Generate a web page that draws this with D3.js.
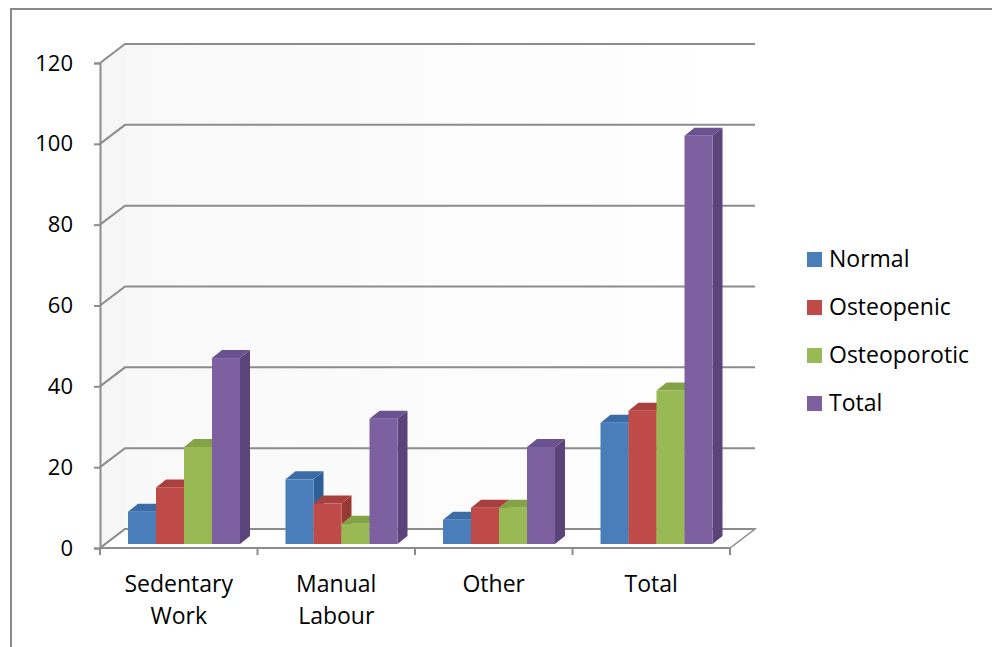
<!DOCTYPE html>
<html>
<head>
<meta charset="utf-8">
<script src="https://cdn.jsdelivr.net/npm/d3@7"></script>
<style>
  body { margin: 0; background: #fff; }
  text { font-family: "Open Sans", sans-serif; fill: #000; }
</style>
</head>
<body>
<div id="chart"></div>
<script>
// data
var categories = ["Sedentary Work", "Manual Labour", "Other", "Total"];
var seriesNames = ["Normal", "Osteopenic", "Osteoporotic", "Total"];
var normal = [8, 16, 6, 30];
var osteopenic = [14, 10, 9, 33];
var osteoporotic = [24, 5, 9, 38];
var total = [46, 31, 24, 101];
var yTicks = [0, 20, 40, 60, 80, 100, 120];

var seriesValues = [normal, osteopenic, osteoporotic, total];
var colors = {
  front: ["#4a7ebb", "#be4b48", "#98b954", "#7d60a0"],
  side:  ["#2f5f99", "#983733", "#769338", "#5b4479"],
  top:   ["#3b6ca8", "#a9403d", "#84a246", "#6a5190"]
};

var width = 992, height = 647;
var svg = d3.select("#chart").append("svg")
  .attr("width", width)
  .attr("height", height);

// outer frame
svg.append("path")
  .attr("d", "M11,647 L11,9 L992,9")
  .attr("fill", "none")
  .attr("stroke", "#8a8a8a")
  .attr("stroke-width", 2);

// scales
var x = d3.scaleBand().domain(categories).range([100, 730]);
var x1 = d3.scaleBand().domain(seriesNames).range([23, 135]);
var y = d3.scaleLinear().domain([0, 120]).range([548, 63]);

// depth of the plot box and of the bars
var dep = {x: 25, y: -19};
var barOff = {x: 5, y: -4};
var barDep = {x: 10, y: -8};

// walls
svg.append("path")
  .attr("d", "M100," + y(0) + " L100," + y(120) + " L" + (100 + dep.x) + "," + (y(120) + dep.y) +
        " L" + (100 + dep.x) + "," + (y(0) + dep.y) + "Z")
  .attr("fill", "#f6f6f6");
var wallGrad = svg.append("defs").append("linearGradient")
  .attr("id", "wall").attr("x1", 0).attr("x2", 1).attr("y1", 0).attr("y2", 0);
wallGrad.append("stop").attr("offset", 0).attr("stop-color", "#f8f8f8");
wallGrad.append("stop").attr("offset", 1).attr("stop-color", "#ffffff");
svg.append("rect")
  .attr("x", 100 + dep.x).attr("y", y(120) + dep.y)
  .attr("width", 630).attr("height", y(0) - y(120))
  .attr("fill", "url(#wall)");

// floor
svg.append("path")
  .attr("d", "M100," + y(0) + " L730," + y(0) + " L" + (730 + dep.x) + "," + (y(0) + dep.y) +
        " L" + (100 + dep.x) + "," + (y(0) + dep.y) + "Z")
  .attr("fill", "#fff")
  .attr("stroke", "#8c8c8c")
  .attr("stroke-width", 1.5);

// gridlines (side wall diagonal + back wall)
svg.selectAll(".grid")
  .data(yTicks)
  .enter().append("path")
    .attr("class", "grid")
    .attr("d", function(d) {
      return "M100," + y(d) + " L" + (100 + dep.x) + "," + (y(d) + dep.y) +
             " L" + (730 + dep.x) + "," + (y(d) + dep.y);
    })
    .attr("fill", "none")
    .attr("stroke", "#8c8c8c")
    .attr("stroke-width", 2);

// Y axis
var yAxis = svg.append("g")
  .attr("transform", "translate(100,0)")
  .call(d3.axisLeft(y).tickValues(yTicks).tickSize(6).tickPadding(21));
yAxis.select(".domain").attr("stroke", "#8c8c8c").attr("stroke-width", 2);
yAxis.selectAll(".tick line").attr("stroke", "#8c8c8c").attr("stroke-width", 2);
yAxis.selectAll(".tick text")
  .style("font-family", "Open Sans, sans-serif")
  .style("font-size", "22px")
  .attr("fill", "#000");

// bars
var bars = [];
categories.forEach(function(c, ci) {
  seriesNames.forEach(function(s, si) {
    bars.push({cat: c, ser: s, si: si, value: seriesValues[si][ci]});
  });
});

var barG = svg.append("g");
var bar = barG.selectAll(".bar")
  .data(bars)
  .enter().append("g")
    .attr("class", "bar");

function geom(d) {
  var x0 = x(d.cat) + x1(d.ser) + barOff.x;
  var w = x1.bandwidth();
  var yt = y(d.value) + barOff.y;
  var yb = y(0) + barOff.y;
  return {x0: x0, w: w, yt: yt, yb: yb};
}

bar.append("path")
  .attr("d", function(d) {
    var g = geom(d);
    return "M" + (g.x0 + g.w) + "," + g.yt + " L" + (g.x0 + g.w + barDep.x) + "," + (g.yt + barDep.y) +
           " L" + (g.x0 + g.w + barDep.x) + "," + (g.yb + barDep.y) + " L" + (g.x0 + g.w) + "," + g.yb + "Z";
  })
  .attr("fill", function(d) { return colors.side[d.si]; });

bar.append("path")
  .attr("d", function(d) {
    var g = geom(d);
    return "M" + g.x0 + "," + g.yt + " L" + (g.x0 + barDep.x) + "," + (g.yt + barDep.y) +
           " L" + (g.x0 + g.w + barDep.x) + "," + (g.yt + barDep.y) + " L" + (g.x0 + g.w) + "," + g.yt + "Z";
  })
  .attr("fill", function(d) { return colors.top[d.si]; });

bar.append("rect")
  .attr("x", function(d) { return geom(d).x0; })
  .attr("y", function(d) { return geom(d).yt; })
  .attr("width", x1.bandwidth())
  .attr("height", function(d) { var g = geom(d); return g.yb - g.yt; })
  .attr("fill", function(d) { return colors.front[d.si]; });

// X axis
svg.append("line")
  .attr("x1", 100).attr("x2", 730)
  .attr("y1", y(0)).attr("y2", y(0))
  .attr("stroke", "#8c8c8c").attr("stroke-width", 2);
var bounds = categories.map(function(c) { return x(c); }).concat([730]);
svg.selectAll(".xtick")
  .data(bounds)
  .enter().append("line")
    .attr("class", "xtick")
    .attr("x1", function(d) { return d; }).attr("x2", function(d) { return d; })
    .attr("y1", y(0)).attr("y2", y(0) + 7)
    .attr("stroke", "#8c8c8c").attr("stroke-width", 2);

svg.selectAll(".xlabel")
  .data(categories)
  .enter().append("text")
    .attr("class", "xlabel")
    .attr("text-anchor", "middle")
    .attr("font-size", "23px")
    .each(function(d) {
      var words = d.split(" ");
      var t = d3.select(this);
      words.forEach(function(wd, i) {
        t.append("tspan")
          .attr("x", x(d) + x.bandwidth() / 2)
          .attr("y", 592 + i * 32)
          .text(wd);
      });
    });

// legend
var legend = svg.selectAll(".legend")
  .data(seriesNames)
  .enter().append("g")
    .attr("class", "legend")
    .attr("transform", function(d, i) { return "translate(807," + (252 + i * 48) + ")"; });
legend.append("rect")
  .attr("width", 15).attr("height", 15)
  .attr("fill", function(d, i) { return colors.front[i]; });
legend.append("text")
  .attr("x", 22).attr("y", 15)
  .attr("font-size", "23px")
  .text(function(d) { return d; });
</script>
</body>
</html>
